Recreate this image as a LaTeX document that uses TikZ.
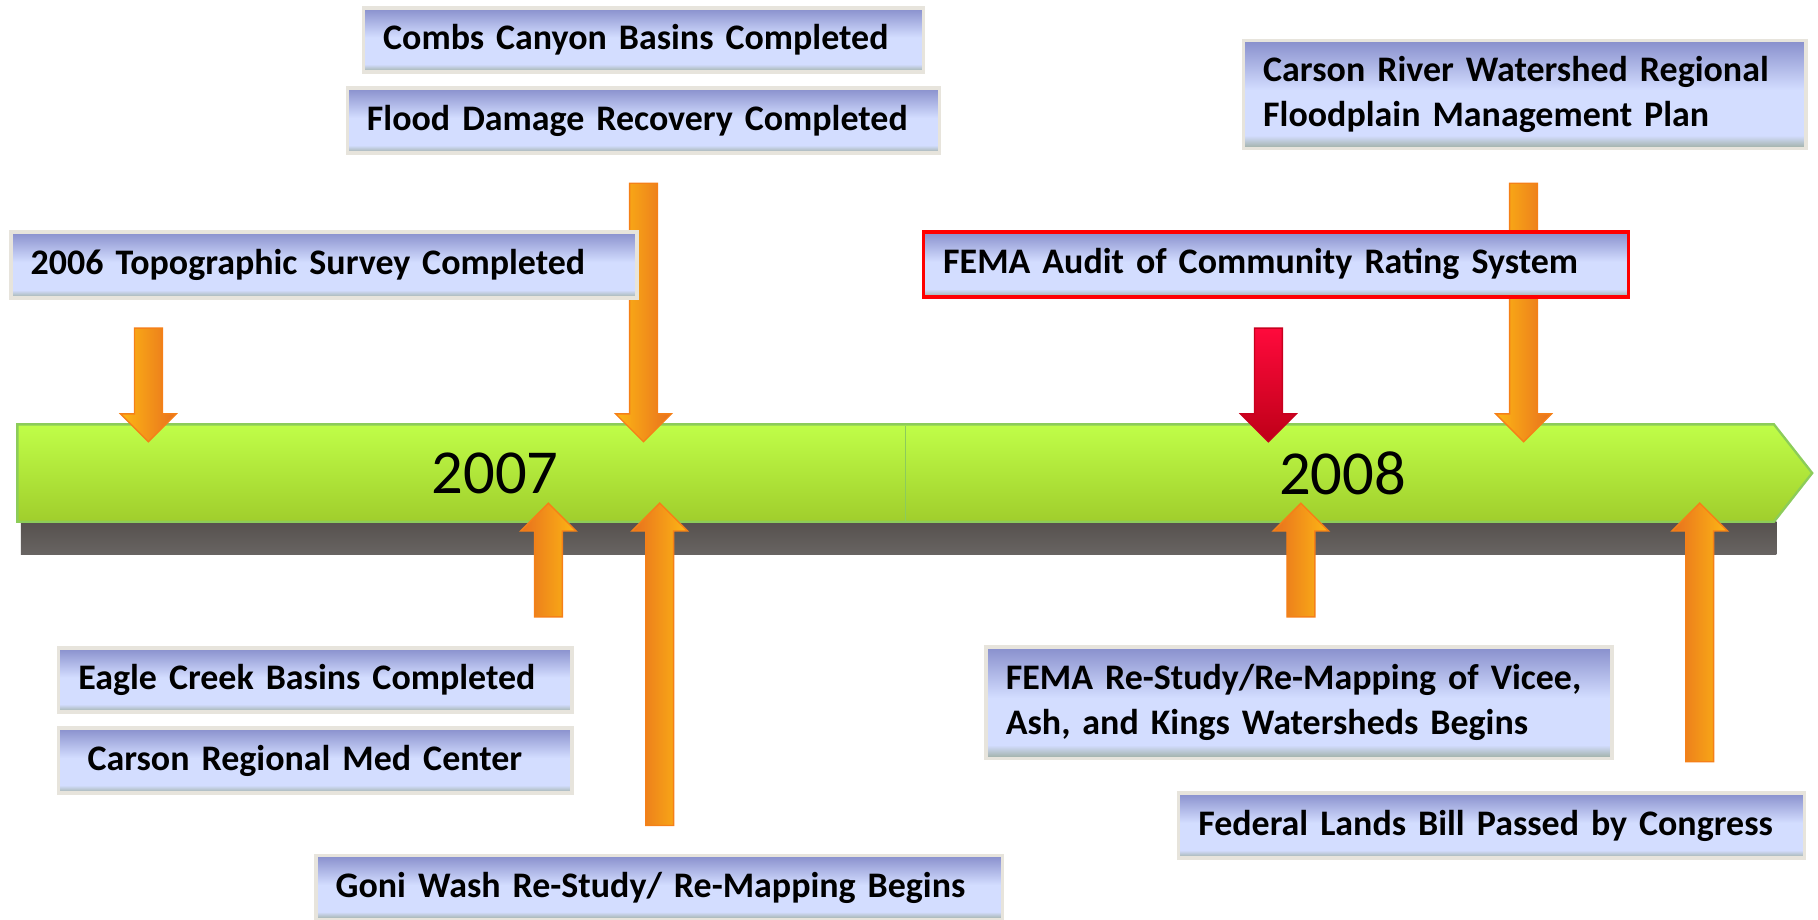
\documentclass[tikz,border=0pt]{standalone}
\usepackage{fontspec}
\setmainfont{Carlito}

\definecolor{boxTop}{RGB}{136,143,204}
\definecolor{boxLight}{RGB}{211,221,255}
\definecolor{boxBottom}{RGB}{158,174,162}
\definecolor{boxEdge}{RGB}{231,228,220}
\definecolor{barTop}{RGB}{192,254,72}
\definecolor{barBottom}{RGB}{160,206,44}
\definecolor{barEdge}{RGB}{140,204,90}
\definecolor{shadowTop}{RGB}{86,81,78}
\definecolor{shadowBottom}{RGB}{104,100,98}
\definecolor{arrowLight}{RGB}{253,183,20}
\definecolor{arrowDark}{RGB}{232,112,30}
\definecolor{arrowEdge}{RGB}{245,128,24}
\definecolor{redTop}{RGB}{255,10,60}
\definecolor{redBottom}{RGB}{190,0,24}
\definecolor{redEdge}{RGB}{200,0,30}

\pgfdeclareverticalshading{boxShade}{100bp}{color(0bp)=(boxBottom); color(25bp)=(boxBottom);
  color(31bp)=(boxLight); color(52bp)=(boxLight); color(75bp)=(boxTop); color(100bp)=(boxTop)}

\newcommand{\boxFont}{\fontsize{31}{39}\selectfont\bfseries
  \spaceskip=5.4pt plus 1pt minus 1pt\relax}

\begin{document}
\begin{tikzpicture}
[x=1pt,y=-1pt,
 boxDecorate/.style={draw=boxEdge,line width=3pt,shading=boxShade,anchor=west,
   inner xsep=17pt,inner ysep=0pt,align=left,font=\boxFont},
 yearDecorate/.style={inner sep=0pt,font=\fontsize{54}{60}\selectfont},
 arrowDown/.style={draw=arrowEdge,line width=1.2pt,left color=arrowLight,right color=arrowDark},
 arrowUp/.style={draw=arrowEdge,line width=1.2pt,left color=arrowDark,right color=arrowLight},
 arrowRed/.style={draw=redEdge,line width=1.2pt,top color=redTop,bottom color=redBottom}]
\useasboundingbox (0,0) rectangle (1568,793);
%% timeline bar
\fill[top color=shadowTop,bottom color=shadowBottom] (18,450) rectangle (1532,478);
\draw[draw=barEdge,line width=2pt,top color=barTop,bottom color=barBottom]
  (15,366) -- (1530,366) -- (1563,408) -- (1530,450) -- (15,450) -- cycle;
\draw[barEdge,line width=1.5pt] (781,367) -- (781,449);
\node (y2007) at (427,408) [yearDecorate] {2007};
\node (y2008) at (1158,408) [yearDecorate] {2008};
%% arrows down to the bar
\foreach \x/\ytop in {128/283, 555/158, 1314/158}
{
  \draw[arrowDown] (\x-12,\ytop) -- (\x+12,\ytop) -- (\x+12,357) -- (\x+24,357)
    -- (\x,381) -- (\x-24,357) -- (\x-12,357) -- cycle;
}
\draw[arrowRed] (1082,283) -- (1106,283) -- (1106,357) -- (1118,357)
  -- (1094,381) -- (1070,357) -- (1082,357) -- cycle;
%% arrows up to the bar
\foreach \x/\ybot in {473/532, 569/712, 1122/532, 1466/657}
{
  \draw[arrowUp] (\x-12,\ybot) -- (\x+12,\ybot) -- (\x+12,458) -- (\x+24,458)
    -- (\x,434) -- (\x-24,458) -- (\x-12,458) -- cycle;
}
%% events above
\node (topo) at (8,228.5) [boxDecorate,text width=506pt,minimum height=57pt] {2006 Topographic Survey Completed};
\node (combs) at (312,34.5) [boxDecorate,text width=449pt,minimum height=55pt] {Combs Canyon Basins Completed};
\node (flood) at (298,104) [boxDecorate,text width=477pt,minimum height=56pt] {Flood Damage Recovery Completed};
\node (carsonriver) at (1071,81.5) [boxDecorate,text width=451pt,minimum height=93pt] {Carson River Watershed Regional\\Floodplain Management Plan};
\node (audit) at (795,228) [boxDecorate,draw=red,text width=574pt,minimum height=56pt] {FEMA Audit of Community Rating System};
%% events below
\node (eagle) at (49,586.5) [boxDecorate,text width=409pt,minimum height=55pt] {Eagle Creek Basins Completed};
\node (medcenter) at (49,656) [boxDecorate,inner xsep=25pt,text width=393pt,minimum height=56pt] {Carson Regional Med Center};
\node (goni) at (271,765.5) [boxDecorate,text width=558pt,minimum height=55pt] {Goni Wash Re-Study/ Re-Mapping Begins};
\node (restudy) at (849,606) [boxDecorate,text width=506pt,minimum height=96pt] {FEMA Re-Study/Re-Mapping of Vicee,\\Ash, and Kings Watersheds Begins};
\node (federal) at (1015,712) [boxDecorate,text width=506pt,minimum height=56pt] {Federal Lands Bill Passed by Congress};
\end{tikzpicture}
\end{document}
